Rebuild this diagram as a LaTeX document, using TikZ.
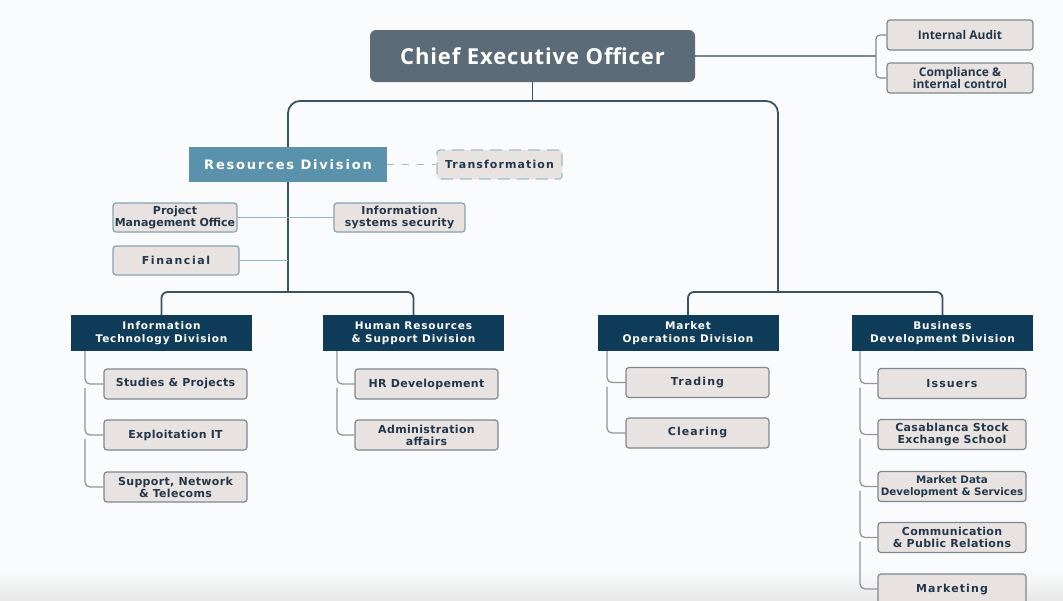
\documentclass[tikz,border=0pt]{standalone}
\usepackage{fontspec}
\setmainfont{DejaVu Sans}
\newfontfamily\osans{Open Sans}
\newfontfamily\osanstrack{Open Sans}[LetterSpace=4]
\newfontfamily\trackdv{DejaVu Sans}[LetterSpace=8]
\newfontfamily\trackunit{DejaVu Sans}[LetterSpace=3]
\newfontfamily\trackmid{DejaVu Sans}[LetterSpace=10]
\newfontfamily\trackwide{DejaVu Sans}[LetterSpace=14]
\usetikzlibrary{calc}

\definecolor{pagebg}{HTML}{FAFBFC}
\definecolor{ceoC}{HTML}{5B6B78}
\definecolor{resC}{HTML}{5B92AB}
\definecolor{navyC}{HTML}{0F3C58}
\definecolor{unitF}{HTML}{E8E3E1}
\definecolor{unitB}{HTML}{7D8790}
\definecolor{resB}{HTML}{86A2AF}
\definecolor{txtC}{HTML}{24374A}
\definecolor{mainC}{HTML}{3D5363}
\definecolor{tealC}{HTML}{93B6C4}
\definecolor{dashC}{HTML}{9CBDCB}
\definecolor{childC}{HTML}{8F979D}

\pgfdeclarelayer{bg}
\pgfdeclarelayer{lines}
\pgfsetlayers{bg,lines,main}

\tikzset{
  ceobox/.style={fill=ceoC, rounded corners=6pt, minimum width=325pt, minimum height=52pt,
    text=white, font=\osanstrack\bfseries\fontsize{22}{26}\selectfont},
  resbox/.style={fill=resC, minimum width=198pt, minimum height=35pt, text=white,
    font=\trackwide\bfseries\fontsize{13}{15}\selectfont},
  divbox/.style={fill=navyC, minimum width=181pt, minimum height=36pt, text=white,
    align=center, inner sep=1pt, font=\trackdv\bfseries\fontsize{10.5}{13}\selectfont},
  unitbox/.style={draw=unitB, line width=1.2pt, fill=unitF, rounded corners=3pt,
    minimum width=143pt, minimum height=30pt, align=center, inner sep=1pt, text=txtC,
    font=\trackunit\bfseries\fontsize{11}{12}\selectfont},
  staffbox/.style={unitbox, draw=resB},
  auditbox/.style={unitbox, minimum width=146pt, font=\osans\bfseries\fontsize{12}{12.5}\selectfont},
  dashbox/.style={unitbox, draw=dashC, dash pattern=on 12pt off 7pt, minimum width=125pt,
    minimum height=29pt, font=\trackmid\bfseries\fontsize{11}{12}\selectfont},
  mainln/.style={draw=mainC, line width=1.8pt},
  tealln/.style={draw=tealC, line width=1.2pt},
  dashln/.style={draw=dashC, line width=1.2pt, dash pattern=on 7pt off 8pt},
  childln/.style={draw=childC, line width=1.3pt, rounded corners=5pt},
  auditln/.style={draw=unitB, line width=1.1pt},
}

\begin{document}
\begin{tikzpicture}[x=1pt, y=-1pt]
\useasboundingbox (0,0) rectangle (1063,600);
\clip (0,0) rectangle (1063,600);

\begin{pgfonlayer}{bg}
  \fill[pagebg] (0,0) rectangle (1063,600);
  \shade[top color=pagebg, bottom color=black!9] (0,570) rectangle (1063,600);
\end{pgfonlayer}

% top level
\node[ceobox] (ceo) at (532.5,56) {Chief Executive Officer};
\node[auditbox] (ia) at (960,35) {Internal Audit};
\node[auditbox] (ic) at (960,78) {Compliance \&\\internal control};

% resources division and its staff units
\node[resbox] (rd) at (288,164.5) {Resources Division};
\node[dashbox] (tr) at (499.5,164.5) {Transformation};
\node[staffbox, minimum width=124pt, minimum height=29pt,
      font=\bfseries\fontsize{11}{12}\selectfont] (pmo) at (175,217.5) {Project\\Management Office};
\node[staffbox, minimum width=131pt, minimum height=29pt] (iss) at (399.5,217.5) {Information\\systems security};
\node[staffbox, minimum width=126pt, minimum height=29pt,
      font=\trackwide\bfseries\fontsize{11}{12}\selectfont] (fin) at (176,260.5) {Financial};

% divisions
\node[divbox] (it) at (161.5,333) {Information\\Technology Division};
\node[divbox] (hr) at (413.5,333) {Human Resources\\\& Support Division};
\node[divbox] (mo) at (688,333) {Market\\Operations Division};
\node[divbox] (bd) at (942.5,333) {Business\\Development Division};

% IT units
\node[unitbox] (it1) at (175.5,384) {Studies \& Projects};
\node[unitbox] (it2) at (175.5,435) {Exploitation IT};
\node[unitbox] (it3) at (175.5,487) {Support, Network\\\& Telecoms};

% HR units
\node[unitbox] (hr1) at (426.5,384) {HR Developement};
\node[unitbox] (hr2) at (426.5,435) {Administration\\affairs};

% market operations units
\node[unitbox, font=\trackmid\bfseries\fontsize{11}{12}\selectfont] (mo1) at (697.5,382.5) {Trading};
\node[unitbox, font=\trackmid\bfseries\fontsize{11}{12}\selectfont] (mo2) at (697.5,433) {Clearing};

% business development units
\node[unitbox, minimum width=148pt, font=\trackmid\bfseries\fontsize{11}{12}\selectfont] (bd1) at (952,383.5) {Issuers};
\node[unitbox, minimum width=148pt] (bd2) at (952,434.5) {Casablanca Stock\\Exchange School};
\node[unitbox, minimum width=148pt, font=\bfseries\fontsize{10.3}{12}\selectfont] (bd3) at (952,486.5) {Market Data\\Development \& Services};
\node[unitbox, minimum width=148pt] (bd4) at (952,537.5) {Communication\\\& Public Relations};
\node[unitbox, minimum width=148pt, font=\trackmid\bfseries\fontsize{11}{12}\selectfont] (bd5) at (952,589) {Marketing};

% routing points
\coordinate (auditx) at (876,0);
\coordinate (topbar) at (532.5,101);
\coordinate (lbar) at (288,292);
\coordinate (rbar) at (778,292);
\coordinate (itx) at (85,0);
\coordinate (hrx) at (337,0);
\coordinate (mox) at (607,0);
\coordinate (bdx) at (860,0);

\begin{pgfonlayer}{lines}
  % CEO to audit functions
  \draw[auditln] (ceo.east) -- (ceo.east -| auditx);
  \draw[auditln, rounded corners=4pt] (ia.west) -| (auditx |- ic.west) -- (ic.west);

  % main tree
  \draw[mainln] (ceo.south) -- (topbar);
  \draw[mainln, rounded corners=12pt] (lbar) |- (topbar) -| (rbar);
  \draw[mainln, rounded corners=6pt] (it.north) |- (lbar) -| (hr.north);
  \draw[mainln, rounded corners=6pt] (mo.north) |- (rbar) -| (bd.north);

  % staff units of the resources division
  \draw[dashln] (rd.east) -- (tr.west);
  \draw[tealln] (pmo.east) -- (iss.west);
  \draw[tealln] (fin.east) -- (fin.east -| lbar);

  % division brackets
  \draw[childln] (it.south -| itx) |- (it1.west);
  \draw[childln] ([yshift=-4pt]it1.west -| itx) |- (it2.west);
  \draw[childln] ([yshift=-4pt]it2.west -| itx) |- (it3.west);

  \draw[childln] (hr.south -| hrx) |- (hr1.west);
  \draw[childln] ([yshift=-4pt]hr1.west -| hrx) |- (hr2.west);

  \draw[childln] (mo.south -| mox) |- (mo1.west);
  \draw[childln] ([yshift=-4pt]mo1.west -| mox) |- (mo2.west);

  \draw[childln] (bd.south -| bdx) |- (bd1.west);
  \draw[childln] ([yshift=-4pt]bd1.west -| bdx) |- (bd2.west);
  \draw[childln] ([yshift=-4pt]bd2.west -| bdx) |- (bd3.west);
  \draw[childln] ([yshift=-4pt]bd3.west -| bdx) |- (bd4.west);
  \draw[childln] ([yshift=-4pt]bd4.west -| bdx) |- (bd5.west);
\end{pgfonlayer}
\end{tikzpicture}
\end{document}
